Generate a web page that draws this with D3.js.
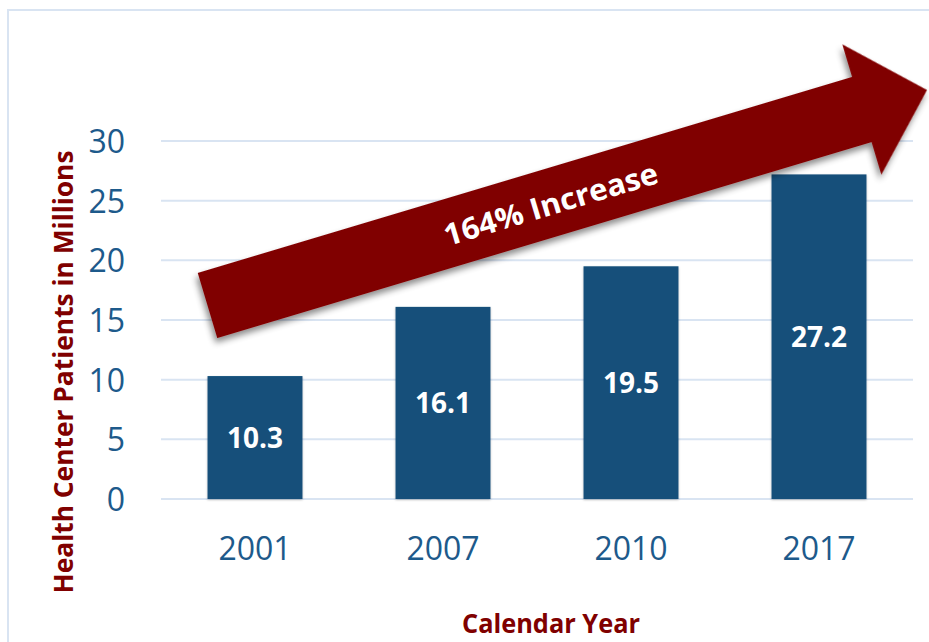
<!DOCTYPE html>
<html>
  <head>
    <meta charset="utf-8">
    <script src="https://d3js.org/d3.v7.min.js"></script>
    <style>
      body { margin: 0; background: #fff; }
      svg { display: block; font-family: "Open Sans", sans-serif; }
    </style>
  </head>
  <body>
    <script>
      // data
      const years = ["2001", "2007", "2010", "2017"]
      const patients = [10.3, 16.1, 19.5, 27.2]
      const yTicks = [0, 5, 10, 15, 20, 25, 30]
      const arrowLabel = "164% Increase"

      const W = 929, H = 642
      const plotLeft = 161, plotRight = 913, plotTop = 141, plotBottom = 499
      const barColor = "#124f7a"
      const tickColor = "#1d5a8b"
      const maroon = "#800000"
      const gridColor = "#d9e4f2"

      const svg = d3.select("body").append("svg")
        .attr("width", W)
        .attr("height", H)

      const defs = svg.append("defs")
      defs.append("filter")
          .attr("id", "shadow")
          .attr("x", "-10%").attr("y", "-30%")
          .attr("width", "120%").attr("height", "160%")
        .append("feDropShadow")
          .attr("dx", -3).attr("dy", 4)
          .attr("stdDeviation", 3)
          .attr("flood-color", "#000")
          .attr("flood-opacity", 0.45)
      defs.append("filter")
          .attr("id", "barshadow")
        .append("feDropShadow")
          .attr("dx", 0).attr("dy", 1)
          .attr("stdDeviation", 1.2)
          .attr("flood-color", "#000")
          .attr("flood-opacity", 0.25)

      // outer frame
      svg.append("rect")
        .attr("x", 8).attr("y", 10)
        .attr("width", W + 20).attr("height", H + 20)
        .attr("fill", "none")
        .attr("stroke", gridColor)
        .attr("stroke-width", 2)

      const x = d3.scaleBand()
        .domain(years)
        .range([plotLeft, plotRight])
        .paddingInner(0.495)
        .paddingOuter(0.2475)

      const y = d3.scaleLinear()
        .domain([0, 30])
        .range([plotBottom, plotTop])

      // gridlines
      svg.append("g")
        .selectAll("line")
        .data(yTicks)
        .join("line")
          .attr("x1", plotLeft).attr("x2", plotRight)
          .attr("y1", d => y(d)).attr("y2", d => y(d))
          .attr("stroke", gridColor)
          .attr("stroke-width", 2)

      // y axis labels
      const yAxis = d3.axisLeft(y).tickValues(yTicks).tickSize(0).tickPadding(0)
      svg.append("g")
          .attr("transform", "translate(125,0)")
          .call(yAxis)
          .call(g => g.select(".domain").remove())
          .call(g => g.selectAll("text")
            .attr("fill", tickColor)
            .attr("font-family", "Open Sans")
            .attr("font-size", 32)
            .attr("dy", "0.36em"))

      // x axis labels
      const xAxis = d3.axisBottom(x).tickSize(0).tickPadding(0)
      svg.append("g")
          .attr("transform", "translate(0,560)")
          .call(xAxis)
          .call(g => g.select(".domain").remove())
          .call(g => g.selectAll("text")
            .attr("fill", tickColor)
            .attr("font-family", "Open Sans")
            .attr("font-size", 32)
            .attr("dy", 0))

      // bars
      svg.append("g")
        .selectAll("rect")
        .data(patients)
        .join("rect")
          .attr("x", (d, i) => x(years[i]))
          .attr("y", d => y(d))
          .attr("width", x.bandwidth())
          .attr("height", d => y(0) - y(d))
          .attr("fill", barColor)
          .attr("filter", "url(#barshadow)")

      svg.append("g")
        .selectAll("text")
        .data(patients)
        .join("text")
          .attr("x", (d, i) => x(years[i]) + x.bandwidth() / 2)
          .attr("y", d => (y(d) + y(0)) / 2 + 10)
          .attr("text-anchor", "middle")
          .attr("fill", "#fff")
          .attr("font-weight", 700)
          .attr("font-size", 28)
          .text(d => d.toFixed(1))

      // axis titles
      svg.append("text")
        .attr("transform", "translate(73,372) rotate(-90)")
        .attr("text-anchor", "middle")
        .attr("fill", maroon)
        .attr("font-weight", 700)
        .attr("font-size", 26)
        .attr("textLength", 443)
        .attr("lengthAdjust", "spacingAndGlyphs")
        .text("Health Center Patients in Millions")

      svg.append("text")
        .attr("x", 551).attr("y", 633)
        .attr("text-anchor", "middle")
        .attr("fill", maroon)
        .attr("font-weight", 700)
        .attr("font-size", 27)
        .attr("textLength", 178)
        .attr("lengthAdjust", "spacingAndGlyphs")
        .text("Calendar Year")

      // growth arrow, drawn along its own axis then rotated
      const tail = [207.5, 305.5], tip = [927, 90]
      const len = Math.hypot(tip[0] - tail[0], tip[1] - tail[1])
      const ang = Math.atan2(tip[1] - tail[1], tip[0] - tail[0]) * 180 / Math.PI
      const shaftHalf = 34, headHalf = 68, headLen = 68
      const arrowPts = [
        [0, -shaftHalf], [len - headLen, -shaftHalf], [len - headLen, -headHalf],
        [len, 0],
        [len - headLen, headHalf], [len - headLen, shaftHalf], [0, shaftHalf]
      ]
      const arrow = svg.append("g")
        .attr("transform", `translate(${tail[0]},${tail[1]}) rotate(${ang})`)
      arrow.append("path")
        .attr("d", d3.line()(arrowPts) + "Z")
        .attr("fill", maroon)
        .attr("filter", "url(#shadow)")
      arrow.append("text")
        .attr("x", 358)
        .attr("y", 12)
        .attr("text-anchor", "middle")
        .attr("fill", "#fff")
        .attr("font-weight", 700)
        .attr("font-size", 30)
        .attr("textLength", 222)
        .attr("lengthAdjust", "spacingAndGlyphs")
        .text(arrowLabel)
    </script>
  </body>
</html>
